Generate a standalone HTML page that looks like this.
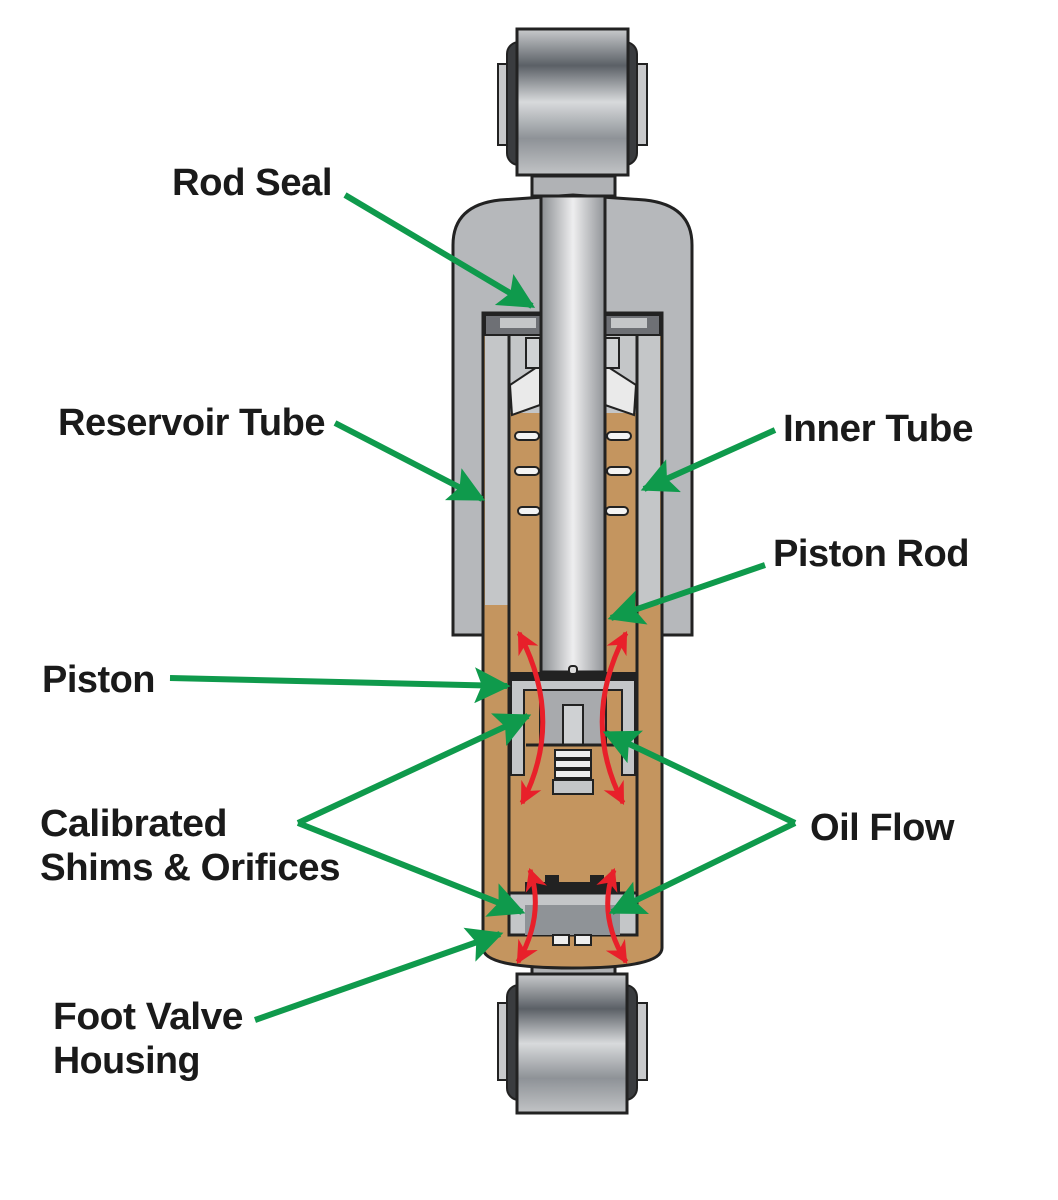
<!DOCTYPE html>
<html><head><style>body{margin:0;background:#fff}svg{display:block}</style></head><body>
<svg width="1058" height="1200" viewBox="0 0 1058 1200" xmlns="http://www.w3.org/2000/svg">
<defs>
<linearGradient id="metal" x1="0" y1="0" x2="0" y2="1">
<stop offset="0" stop-color="#c9cbcd"/><stop offset="0.25" stop-color="#5b6066"/><stop offset="0.5" stop-color="#d8dadc"/><stop offset="0.75" stop-color="#8e9297"/><stop offset="1" stop-color="#c2c4c6"/></linearGradient>
<linearGradient id="rod" x1="0" y1="0" x2="1" y2="0">
<stop offset="0" stop-color="#8a8d91"/><stop offset="0.5" stop-color="#eeeeef"/><stop offset="1" stop-color="#909397"/></linearGradient>
<marker id="ga" viewBox="0 0 10 10" refX="9" refY="5" markerWidth="6" markerHeight="6" orient="auto"><path d="M0,0L10,5L0,10L2,5z" fill="#0f9a4c"/></marker>
<marker id="ra" viewBox="0 0 10 10" refX="9" refY="5" markerWidth="4.5" markerHeight="4.5" orient="auto-start-reverse"><path d="M0,0L10,5L0,10L3,5z" fill="#e8202a"/></marker>
</defs>
<!-- top eye -->
<rect x="498" y="64" width="149" height="81" fill="#c8c9cb" stroke="#222" stroke-width="2"/>
<rect x="507" y="42" width="130" height="123" rx="12" fill="#3a3c3f" stroke="#222" stroke-width="2"/>
<rect x="517" y="29" width="111" height="146" fill="url(#metal)" stroke="#222" stroke-width="3"/>
<rect x="532" y="176" width="83" height="20" fill="#b0b2b5" stroke="#222" stroke-width="3"/>
<!-- reservoir -->
<path d="M453,635 L453,245 Q453,205 500,200 L573,195 L645,200 Q692,205 692,245 L692,635 Z" fill="#b6b8bb" stroke="#222" stroke-width="3"/>
<!-- bottom neck -->
<rect x="532" y="962" width="83" height="14" fill="#b0b2b5" stroke="#222" stroke-width="3"/>
<!-- inner tube body and oil -->
<path d="M483,313 L662,313 L662,948 Q662,968 572,968 Q483,968 483,948 Z" fill="#c4955f" stroke="#222" stroke-width="3"/>
<rect x="485" y="315" width="175" height="290" fill="#c4c6c8"/>
<rect x="510" y="413" width="126" height="192" fill="#c4955f"/>
<line x1="509" y1="330" x2="509" y2="895" stroke="#222" stroke-width="3"/>
<line x1="637" y1="330" x2="637" y2="895" stroke="#222" stroke-width="3"/>
<!-- seal area -->
<rect x="485" y="315" width="56" height="20" fill="#6e7075" stroke="#222" stroke-width="2"/>
<rect x="605" y="315" width="55" height="20" fill="#6e7075" stroke="#222" stroke-width="2"/>
<rect x="500" y="318" width="36" height="10" fill="#c4c6c8"/>
<rect x="611" y="318" width="36" height="10" fill="#c4c6c8"/>
<path d="M510,385 L540,365 L540,405 L512,415 Z" fill="#eaeaea" stroke="#222" stroke-width="2"/>
<path d="M636,385 L605,365 L605,405 L634,415 Z" fill="#eaeaea" stroke="#222" stroke-width="2"/>
<rect x="526" y="338" width="14" height="30" fill="#d0d2d4" stroke="#222" stroke-width="2"/>
<rect x="605" y="338" width="14" height="30" fill="#d0d2d4" stroke="#222" stroke-width="2"/>
<!-- slots -->
<g fill="#f3f3f3" stroke="#222" stroke-width="2">
<rect x="515" y="432" width="24" height="8" rx="4"/><rect x="607" y="432" width="24" height="8" rx="4"/>
<rect x="515" y="467" width="24" height="8" rx="4"/><rect x="607" y="467" width="24" height="8" rx="4"/>
<rect x="518" y="507" width="22" height="8" rx="4"/><rect x="606" y="507" width="22" height="8" rx="4"/>
</g>
<!-- rod -->
<rect x="541" y="196" width="64" height="476" fill="url(#rod)" stroke="#222" stroke-width="3"/>
<!-- piston -->
<rect x="509" y="672" width="128" height="8" fill="#222"/>
<path d="M511,680 L635,680 L635,775 L622,775 L622,690 L524,690 L524,775 L511,775 Z" fill="#c4c6c8" stroke="#222" stroke-width="2"/>
<rect x="540" y="690" width="66" height="55" fill="#a8aaad" stroke="#222" stroke-width="2"/>
<rect x="563" y="705" width="20" height="40" fill="#cfd1d3" stroke="#222" stroke-width="2"/>
<line x1="526" y1="745" x2="620" y2="745" stroke="#222" stroke-width="3"/>
<g stroke="#222" stroke-width="2" fill="#eee"><rect x="555" y="750" width="36" height="8"/><rect x="555" y="760" width="36" height="8"/><rect x="555" y="770" width="36" height="8"/><rect x="553" y="780" width="40" height="14" fill="#c4c6c8"/></g>
<rect x="569" y="666" width="8" height="8" rx="3" fill="#ddd" stroke="#222" stroke-width="2"/>
<!-- foot valve -->
<rect x="509" y="893" width="128" height="42" fill="#c4c6c8" stroke="#222" stroke-width="3"/>
<rect x="525" y="882" width="95" height="10" fill="#222"/>
<rect x="545" y="875" width="14" height="10" fill="#222"/><rect x="590" y="875" width="14" height="10" fill="#222"/>
<rect x="525" y="905" width="95" height="30" fill="#8f9397"/>
<rect x="553" y="935" width="16" height="10" fill="#eee" stroke="#222" stroke-width="2"/><rect x="575" y="935" width="16" height="10" fill="#eee" stroke="#222" stroke-width="2"/>
<!-- bottom eye -->
<rect x="498" y="1003" width="149" height="77" fill="#c8c9cb" stroke="#222" stroke-width="2"/>
<rect x="507" y="985" width="130" height="115" rx="12" fill="#3a3c3f" stroke="#222" stroke-width="2"/>
<rect x="517" y="974" width="110" height="139" fill="url(#metal)" stroke="#222" stroke-width="3"/>
<!-- red arrows -->
<g fill="none" stroke="#e8202a" stroke-width="5" marker-start="url(#ra)" marker-end="url(#ra)">
<path d="M519,633 Q565,720 522,803"/><path d="M626,633 Q580,720 623,803"/>
<path d="M530,870 Q545,915 518,962"/><path d="M614,870 Q597,915 626,962"/>
</g>
<!-- green arrows -->
<g stroke="#0f9a4c" stroke-width="6" fill="none" marker-end="url(#ga)">
<line x1="345" y1="195" x2="532" y2="306"/>
<line x1="335" y1="423" x2="482" y2="499"/>
<line x1="775" y1="430" x2="644" y2="489"/>
<line x1="765" y1="565" x2="611" y2="618"/>
<line x1="170" y1="678" x2="507" y2="686"/>
<line x1="298" y1="823" x2="528" y2="716"/>
<line x1="298" y1="823" x2="522" y2="912"/>
<line x1="795" y1="823" x2="606" y2="733"/>
<line x1="795" y1="823" x2="612" y2="912"/>
<line x1="255" y1="1020" x2="500" y2="934"/>
</g>
<g font-family="Liberation Sans, sans-serif" font-size="38" fill="#1a1a1a" font-weight="bold" style="letter-spacing:-0.5px">
<text x="172" y="195" textLength="160" lengthAdjust="spacingAndGlyphs">Rod Seal</text>
<text x="58" y="435" textLength="267" lengthAdjust="spacingAndGlyphs">Reservoir Tube</text>
<text x="783" y="441" textLength="190" lengthAdjust="spacingAndGlyphs">Inner Tube</text>
<text x="773" y="566" textLength="196" lengthAdjust="spacingAndGlyphs">Piston Rod</text>
<text x="42" y="692" textLength="113" lengthAdjust="spacingAndGlyphs">Piston</text>
<text x="40" y="836" textLength="187" lengthAdjust="spacingAndGlyphs">Calibrated</text>
<text x="40" y="880" textLength="300" lengthAdjust="spacingAndGlyphs">Shims &amp; Orifices</text>
<text x="810" y="840" textLength="144" lengthAdjust="spacingAndGlyphs">Oil Flow</text>
<text x="53" y="1029" textLength="190" lengthAdjust="spacingAndGlyphs">Foot Valve</text>
<text x="53" y="1073" textLength="147" lengthAdjust="spacingAndGlyphs">Housing</text>
</g>
</svg>
</body></html>
